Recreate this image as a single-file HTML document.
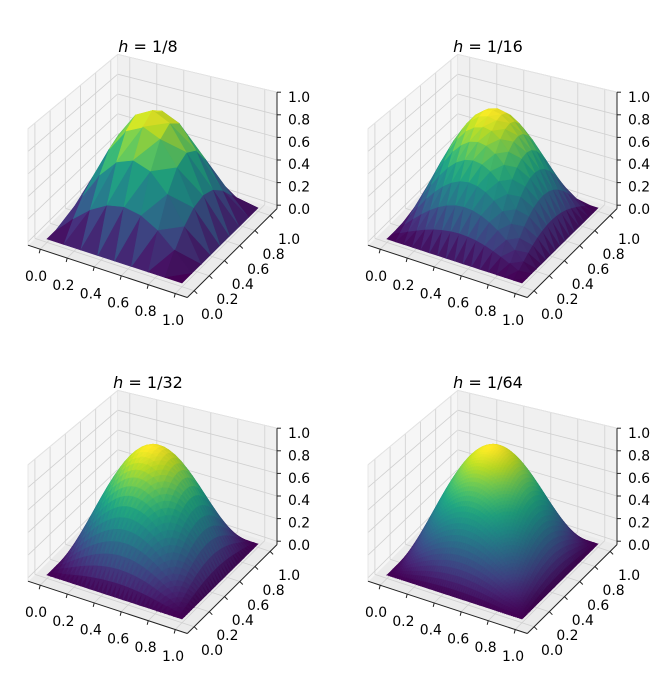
<!DOCTYPE html>
<html><head><meta charset="utf-8"><style>
html,body{margin:0;padding:0;background:#fff;}
svg{display:block;font-family:"DejaVu Sans","Liberation Sans",sans-serif;}
</style></head><body>
<svg id="s" width="662" height="675" viewBox="0 0 662 675" xmlns="http://www.w3.org/2000/svg"></svg>
<script>
const S=document.getElementById('s');
let out='';
const vir=[[68,1,84],[72,36,117],[65,68,135],[53,95,141],[42,120,142],[33,145,140],[34,168,132],[68,191,112],[122,209,81],[189,223,38],[253,231,37]];
function cmap(t,f){t=Math.max(0,Math.min(1,t))*10;let i=Math.min(9,Math.floor(t)),r=t-i;
 let c=vir[i].map((v,k)=>Math.round(Math.max(0,Math.min(255,(v+(vir[i+1][k]-v)*r)*f))));return 'rgb('+c.join(',')+')';}
const A=[47,239],B=[182,283],D=[123,164],p=0.09;
function plot(ox,oy,n,title){
 const P=(x,y,z)=>{const zh=113+12*(x-y);return [ox+A[0]+x*(B[0]-A[0])+y*(D[0]-A[0]),oy+A[1]+x*(B[1]-A[1])+y*(D[1]-A[1])-z*zh];};
 const pt=a=>a.map(v=>v[0].toFixed(1)+','+v[1].toFixed(1)).join(' ');
 const lo=-p,hi=1+p,zl=-0.03,zh=1.0;
 out+=`<polygon points="${pt([P(lo,lo,zl),P(hi,lo,zl),P(hi,hi,zl),P(lo,hi,zl)])}" fill="#ebebeb" stroke="#ebebeb"/>`;
 out+=`<polygon points="${pt([P(lo,lo,zl),P(lo,hi,zl),P(lo,hi,zh),P(lo,lo,zh)])}" fill="#f6f6f6" stroke="#f6f6f6"/>`;
 out+=`<polygon points="${pt([P(lo,hi,zl),P(hi,hi,zl),P(hi,hi,zh),P(lo,hi,zh)])}" fill="#f0f0f0" stroke="#f0f0f0"/>`;
 const L=(a,b,c,w)=>{out+=`<line x1="${a[0].toFixed(1)}" y1="${a[1].toFixed(1)}" x2="${b[0].toFixed(1)}" y2="${b[1].toFixed(1)}" stroke="${c}" stroke-width="${w||0.8}"/>`;};
 for(let i=0;i<=5;i++){const t=i/5;
  L(P(t,lo,zl),P(t,hi,zl),'#d0d0d0');L(P(t,hi,zl),P(t,hi,zh),'#d0d0d0');
  L(P(lo,t,zl),P(hi,t,zl),'#d0d0d0');L(P(lo,t,zl),P(lo,t,zh),'#d0d0d0');
  L(P(lo,lo,t),P(lo,hi,t),'#d0d0d0');L(P(lo,hi,t),P(hi,hi,t),'#d0d0d0');}
 L(P(lo,lo,zl),P(lo,lo,zh),'#e4e4e4');L(P(lo,lo,zh),P(lo,hi,zh),'#e4e4e4');L(P(lo,hi,zh),P(hi,hi,zh),'#e4e4e4');L(P(lo,hi,zl),P(lo,hi,zh),'#e4e4e4');
 L(P(lo,lo,zl),P(hi,lo,zl),'#222',1);L(P(hi,lo,zl),P(hi,hi,zl),'#222',1);L(P(hi,hi,zl),P(hi,hi,zh),'#222',1);
 for(let i=0;i<=5;i++){const t=i/5;
  let a=P(t,lo,zl);L(a,[a[0]-1,a[1]+4],'#222',1);
  a=P(hi,t,zl);L(a,[a[0]+3,a[1]+3],'#222',1);
  a=P(hi,hi,t);L(a,[a[0]+4,a[1]],'#222',1);
  const lab=t.toFixed(1);
  out+=`<text x="${(ox+36+t*137).toFixed(1)}" y="${(oy+281+t*44).toFixed(1)}" font-size="13.9" text-anchor="middle">${lab}</text>`;
  out+=`<text x="${(ox+212+t*77).toFixed(1)}" y="${(oy+319-t*75).toFixed(1)}" font-size="13.9" text-anchor="middle">${lab}</text>`;
  out+=`<text x="${ox+288}" y="${(oy+214-t*112).toFixed(1)}" font-size="13.9">${lab}</text>`;}
 const f=(x,y)=>Math.sin(Math.PI*x)*Math.sin(Math.PI*y);
 let tris=[];const l=[-0.45,-0.35,0.82];const ln=Math.hypot(...l);
 for(let i=0;i<n;i++)for(let j=0;j<n;j++){
  const x0=i/n,x1=(i+1)/n,y0=j/n,y1=(j+1)/n;
  const tt=[[[x0,y0],[x1,y0],[x1,y1]],[[x0,y0],[x1,y1],[x0,y1]]];
  for(const t of tt){const v=t.map(q=>[q[0],q[1],f(q[0],q[1])]);
   const u=[v[1][0]-v[0][0],v[1][1]-v[0][1],v[1][2]-v[0][2]],w=[v[2][0]-v[0][0],v[2][1]-v[0][1],v[2][2]-v[0][2]];
   let nn=[u[1]*w[2]-u[2]*w[1],u[2]*w[0]-u[0]*w[2],u[0]*w[1]-u[1]*w[0]];const nl=Math.hypot(...nn)||1;
   if(nn[2]<0)nn=nn.map(a=>-a);
   const d=(nn[0]*l[0]+nn[1]*l[1]+nn[2]*l[2])/nl/ln;
   const sh=1+0.15*(d-l[2]/ln);
   const zc=(v[0][2]+v[1][2]+v[2][2])/3;
   const cx=(v[0][0]+v[1][0]+v[2][0])/3,cy=(v[0][1]+v[1][1]+v[2][1])/3;
   tris.push([0.433*cx-0.75*cy+0.5*zc,v,cmap(zc,sh)]);}}
 tris.sort((a,b)=>a[0]-b[0]);
 for(const t of tris){const q=t[1].map(v=>P(v[0],v[1],v[2]));
  out+=`<polygon points="${pt(q)}" fill="${t[2]}" stroke="${t[2]}" stroke-width="0.6"/>`;}
 out+=`<text x="${ox+148}" y="${oy+52}" font-size="16" text-anchor="middle"><tspan font-style="italic">h</tspan> = 1/${title}</text>`;
}
plot(0,0,8,8);plot(340,0,16,16);plot(0,336,32,32);plot(340,336,64,64);
S.innerHTML=out;
</script>
</body></html>
